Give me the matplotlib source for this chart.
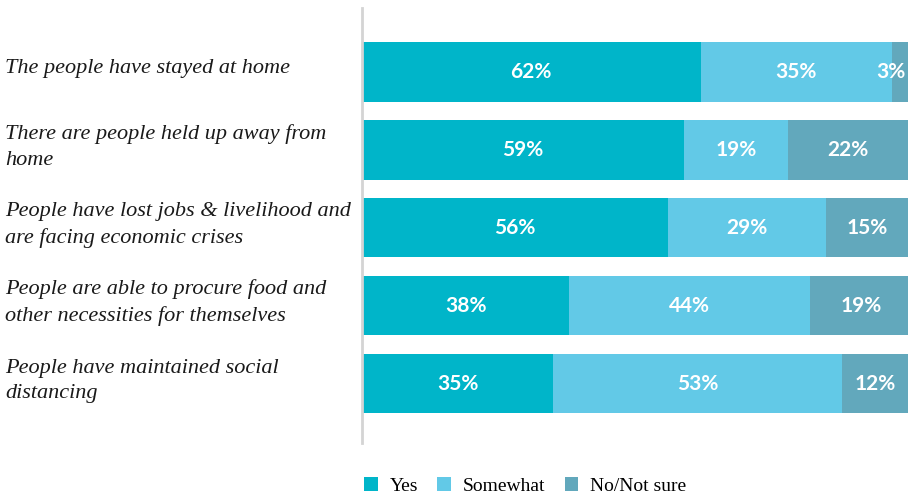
import numpy as np
import matplotlib.pyplot as plt
from matplotlib.patches import Patch

# survey statements and answer shares (%)
statements = [
    "The people have stayed at home",
    "There are people held up away from\nhome",
    "People have lost jobs & livelihood and\nare facing economic crises",
    "People are able to procure food and\nother necessities for themselves",
    "People have maintained social\ndistancing",
]
yes = [62, 59, 56, 38, 35]
somewhat = [35, 19, 29, 44, 53]
not_sure = [3, 22, 15, 19, 12]

answer_names = ["Yes", "Somewhat", "No/Not sure"]
colors = ["#00b5c9", "#62c9e7", "#62a8bc"]

fig = plt.figure(figsize=(9.1, 4.97), dpi=100)
ax = fig.add_axes([362 / 910, 1 - 443 / 497, 546 / 910, 435 / 497])

y = np.arange(len(statements))
left = np.zeros(len(statements))
for vals, col in zip([yes, somewhat, not_sure], colors):
    vals = np.array(vals, dtype=float)
    ax.barh(y, vals, left=left, height=0.76, color=col, linewidth=0)
    for yi, l, v in zip(y, left, vals):
        if v < 6:
            # too narrow for the text: hang it from the right end of the bar
            ax.text(l + v - 0.4, yi, f"{int(v)}%", ha="right", va="center",
                    color="white", fontsize=15, fontweight="bold", family="Lato")
        else:
            ax.text(l + v / 2, yi, f"{int(v)}%", ha="center", va="center",
                    color="white", fontsize=15, fontweight="bold", family="Lato")
    left += vals

ax.set_xlim(0, 100)
ax.set_ylim(4.76, -0.82)
ax.set_xticks([])
ax.set_yticks([])
for side in ["top", "right", "bottom"]:
    ax.spines[side].set_visible(False)
ax.spines["left"].set_color("#d4d4d4")
ax.spines["left"].set_linewidth(2)

# statement labels, left aligned at the figure edge
for yi, s in zip(y, statements):
    yd = ax.transData.transform((0, yi))[1]
    yf = fig.transFigure.inverted().transform((0, yd))[1]
    fig.text(5 / 910, yf + 0.006, s, ha="left", va="center", fontsize=16,
             style="italic", family="Liberation Serif", color="#1a1a1a",
             linespacing=1.45)

handles = [Patch(facecolor=c, edgecolor="none") for c in colors]
fig.legend(handles, answer_names, loc="center", bbox_to_anchor=(525 / 910, 1 - 486 / 497),
           ncol=3, frameon=False, prop={"family": "Liberation Serif", "size": 14},
           handlelength=0.7, handleheight=0.7, handletextpad=0.6, columnspacing=1.0)

fig.savefig("out.png", dpi=100)
